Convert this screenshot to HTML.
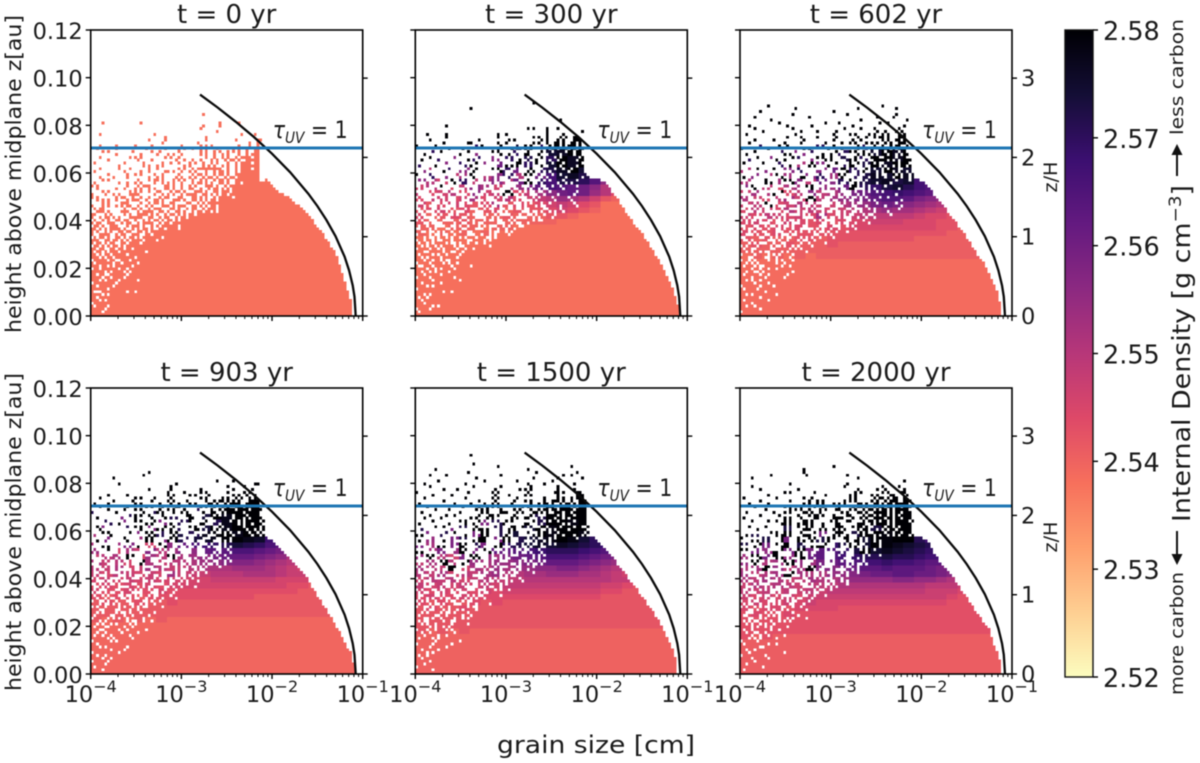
<!DOCTYPE html>
<html>
<head>
<meta charset="utf-8">
<title>Internal density of grains versus size and height</title>
<style>
html,body{margin:0;padding:0;background:#fff;}
svg{display:block;filter:blur(0.45px);font-family:"DejaVu Sans","Liberation Sans",sans-serif;fill:#1a1a1a;}
</style>
</head>
<body>
<svg id="chart" xmlns="http://www.w3.org/2000/svg" width="1200" height="763" viewBox="0 0 1200 763">
<defs><linearGradient id="magma-grad" x1="0" y1="0" x2="0" y2="1"></linearGradient></defs>
<g id="panels"></g>
<text x="596" y="753" font-size="24" text-anchor="middle" textLength="198" lengthAdjust="spacingAndGlyphs">grain size [cm]</text>
<text transform="translate(21,174) rotate(-90)" font-size="21" text-anchor="middle" textLength="318" lengthAdjust="spacingAndGlyphs">height above midplane z[au]</text>
<text transform="translate(21,532) rotate(-90)" font-size="21" text-anchor="middle" textLength="318" lengthAdjust="spacingAndGlyphs">height above midplane z[au]</text>
<text transform="translate(1057,177) rotate(-90)" font-size="19" text-anchor="middle" textLength="31" lengthAdjust="spacingAndGlyphs">z/H</text>
<text transform="translate(1057,537) rotate(-90)" font-size="19" text-anchor="middle" textLength="31" lengthAdjust="spacingAndGlyphs">z/H</text>
<g id="colorbar"></g>
<text transform="translate(1190,522) rotate(-90)" font-size="25" textLength="337" lengthAdjust="spacingAndGlyphs">Internal Density [g cm<tspan dy="-9" font-size="17">−3</tspan><tspan dy="9">]</tspan></text>
<text transform="translate(1183,695) rotate(-90)" font-size="18" textLength="123" lengthAdjust="spacingAndGlyphs">more carbon</text>
<text transform="translate(1183,135) rotate(-90)" font-size="18" textLength="116" lengthAdjust="spacingAndGlyphs">less carbon</text>
<g>
<line x1="1177" y1="531" x2="1177" y2="556" stroke="#111" stroke-width="2"/>
<polygon points="1171.5,554 1182.5,554 1177,565" fill="#111"/>
</g>
<g>
<line x1="1177" y1="176" x2="1177" y2="153" stroke="#111" stroke-width="2"/>
<polygon points="1171.5,155 1182.5,155 1177,144" fill="#111"/>
</g>
</svg>
<script>
// ---------- chart data ----------
const panelTitles = ["t = 0 yr","t = 300 yr","t = 602 yr","t = 903 yr","t = 1500 yr","t = 2000 yr"];
const yTickValues = [0,0.02,0.04,0.06,0.08,0.10,0.12];
const yTickLabels = ["0.00","0.02","0.04","0.06","0.08","0.10","0.12"];
const xTickExponents = [-4,-3,-2,-1];
const xTickLabels = ["−4","−3","−2","−1"];
const xMinorMultipliers = [2,3,4,5,6,7,8,9];
const scaleHeightTicks = [0,1,2,3];
const scaleHeightAu = [0.03327];
const tauLineHeight = [0.0705];
const colorbarTicks = [2.52,2.53,2.54,2.55,2.56,2.57,2.58];
const colorbarLabels = ["2.52","2.53","2.54","2.55","2.56","2.57","2.58"];
// settling-limit curve: log10 grain size [cm], height [au]
const curveLog10Size = [-2.795,-2.6,-2.4,-2.2,-2.0,-1.8,-1.6,-1.5,-1.4,-1.3,-1.2,-1.15,-1.11,-1.09,-1.0773];
const curveHeight = [0.0929,0.0875,0.0815,0.0751,0.0681,0.0603,0.0513,0.0461,0.0403,0.0335,0.0249,0.0191,0.0129,0.0081,0];
// heatmap offsets on top of density levels, per panel
const densityShift = [0,0.0002,0.0008,0.0015,0.0022,0.003];
// first 2-row group that has its own density string (below it: level 9)
const densityStart = [0,14,10,9,7,6];
// right edge of the solid core for columns >= 64, by height row
const coreEdgeP1 = [96,96,96,96,96,96,95,95,95,94,94,94,93,93,93,92,92,92,91,91,91,90,90,89,88,88,87,86,86,85,84,83,82,82,81,80,79,78,77,75,74,73,71,69,68,67,66,65];
const coreEdgeP2 = [97,97,97,97,96,96,96,95,95,95,94,94,93,93,92,92,91,91,90,90,89,88,88,87,86,86,85,84,84,83,82,81,80,80,79,78,77,77,76,75,75,74,73,72,72,71,70,68];
const coreEdgeP3 = [96,96,96,96,96,95,95,95,95,94,94,93,93,92,92,91,91,90,90,89,88,87,87,86,85,85,84,83,83,82,81,80,80,79,78,77,76,76,75,74,73,72,71,71,70,69,68,66];
const coreEdgeP4 = [97,97,97,97,96,96,96,96,95,94,94,93,93,92,92,91,90,90,89,89,88,87,87,86,85,85,84,83,83,82,81,81,80,80,79,78,77,76,75,74,73,72,71,70,69,68,67,65];
const coreEdgeP5 = [96,96,96,96,96,96,95,95,95,94,94,93,93,92,92,91,91,90,90,89,88,88,87,86,85,85,84,83,82,82,81,80,79,78,78,77,76,75,74,74,73,72,71,70,69,68,67,66];
const coreEdgeP6 = [96,96,96,96,96,95,95,95,94,94,93,93,93,92,92,92,91,90,89,89,88,87,86,86,85,84,84,83,82,81,81,80,79,79,78,77,76,75,74,73,73,72,71,71,70,70,69,67];
// occupancy of columns 0-63 by height row (hex, 4 columns per digit, "+" = rest filled)
const occupancyP1 = ["+","f7+","fb+","bd+","7f+","eb+","df+","f5f+","8ffb7+","fdf+","df7+","7fbf+","ebdfb+","f6f7+","d9fb+","faf5f+","6fdbf+","ed7ef+","bf6fb+","7d9df+","eb7f7f+","d6fbf+","b5dff7+","d9b6ff+","6ad7ff+","b59bdff+","e6d5ef7f+","5a6b5fdf+","9e59cdff+","a5366bff+","d5e95a6f7+","69c5d2bf7+","b3965e5bff+","4a6c95ad7f+","96a3e6596f+","c50a7a96adf+","3a1c5e69a5b5+","5809a5c6965d+","8a564a3ae6ad+","0a1c25a6195f+","2a45c9a3a6ad+","a0592458c6a5f7+","84a3c12a5e6adff+","0a02a4c5a3a6ef+","2048a51a4c96aff+","a0045c1a4a3a5ff+","4024a12a45a9a6ff","0a0045a2a4a5a7fc","108404a14a5a5bfc","0204a12085a5a7fc","4008241a4a25a5fc","10220480a5ff25ec","002014a02854a5fc","400810248a4a25ec","02004201248a5a7c","1002a0148024a5ec","0040208a40a4a25c","0a01024080a52a4c","20400810a4a20a4c","1040820040a80224","0000002001000024","0000041000200406","00000010002","1000010000000108","000000000002","00000000008","000000000041","08002000000102","","","00000000004"];
const occupancyP2 = ["+","bf+","7b+","fd7+","ef+","df+","b7+","ebf+","ffdb+","7ff+","f5f+","dfb+","fdff7+","7bfd+","efbf+","daf7+","f6bdf+","9dfbf7+","7bd6f+","eda7ff+","d7bef+","bd6f7f+","e7d9bf+","7b5edbf+","d6bd3fe+","b5e96dbf+","6d3be7af+","e96b5dcbf+","7a4de36bdf+","c95b67e9af+","3ae59c6db7f+","b6196ea35cff+","e43d9a7c69bf+","58c36ba4d7e9f+","a1679c35e86bdf+","4cb2e85a1d96ef+","916a3c74be25adf+","2c85d1a6493e7bf+","68a13e52c974fbef","1c4926a8315dbfdf","a2518c436a17efbf","4091a2c5386bdf7f","8236145a92c6f7df","05c8a1306d49bfef","a1042986135a7dff","2840c1a5062cdbef","0a12640983a5f6bf","5184a25a1c42bdef","0210845a23097efb","8401280396a4dbfe","1020a4018c52bf7c","0408120a6421edbc","4100280354a27bec","0010824106a8ddf8","2080140a1248b7ec","0402010850a2ebf4","1000820124c47bd8","0240100a0842ded8","0008400216a0b76c","8100028104a25ae8","0020180240149a68","0400010028028a38","0010000200148530","0810000240008200","0000000000008004","00000000005088","001","","00000000000004","","","","000008","","00000000001"];
const occupancyP3 = ["+","7f+","fe+","db+","f7f+","bfd+","fef+","d7fb+","ffbf+","bdf+","7ef7+","fbdf+","d6ff+","f7bf7+","bedfb+","d97fef+","f6dbf+","ba7edf+","d5fb7f+","6bdaef+","e79bdf+","7bd5ef+","d69ebf7+","b3e7d5ff+","5de96bdf+","ea367dbe+","97c5ba6ff+","3e6a9d5bdf+","c59a27e6bf+","6b38d5a96ef+","a4d96c15b7df+","39a52e78c6bf+","d618a37c94def+","52c94b6a1e7bf+","a8357e1c946dbf+","1d6a42b9e53a7ef+","c4813a6d2597bdf+","2a96c3518e46bfdf","85147a2c639dfbef","1a43c69025a7dfbf","60a2819c4d36bfef","a5041c6a3295edff","0c285a13946bffbf","9201a46c185ad7ff","04a3182569c2bfdf","2810c4a1036afbff","a05218c4692bdeff","1042a6190c85ffbd","4801231a5426db6d","0214a0845a13d3ad","8040120c2194d75a","1208a40136a2b5ce","0001245082c4eb5a","4082012a1095a7dc","1004802141a27d5e","0210140a4628e7b8","2000a10248155dac","0401082013a49bd8","8020014084129eb8","0102400a20144964","1000820104a2a538","0408010020480a68","0000420810125a38","2000080020a14a28","0080020810002450","0400100002084020","1000402000400008","0002000108001200","0010000000080004","0400004000002080","0000100001000040","0100000020000000","0000080000100040","0020000000000800"];
const occupancyP4 = ["+","f7+","bf+","fb+","7df+","f6f+","dbf+","7fd+","fef7+","ebfb+","dfff+","7ebf+","fd7ef+","b6fdf+","dbefb+","e7dbf7+","b9f6ff+","d6bd7f+","ebfa6df+","7d5bef+","be76fbf+","d7a5def+","e79dbff+","5bd6a7df+","e95cd6ff+","65b9e5bff+","da6536def+","b5c95a7bff+","4a6e1c5dff+","a39d5a6eff+","95c3a9e5bdf+","2a5e6c1b6ff+","c4a3e5d9aef+","5a162e8a5bff+","a3c5164e96ff+","9a15e3c29adff+","a6412c5e8d3ff+","8a5321c6a95eff+","1c4a2e1496a5bff+","8a521c43a6d9aff+","05a41c32c5a6dff+","28c5139a4e15bff+","a0240c51863aeff+","4225c1a9063cdff+","0a0a451c9268aff+","80210a4c2516bfff","24040a19c238afff","02082a05138cefff","410005a2c163b7ed","0a024a250c14adda","100021a4835adfb5","2804a4120a397f7d","01200a1480c6fd6e","0408a1405823ed7d","201082150c47f75e","0002a420183ab7bc","804011a2504cbf7c","0208a04a21097bde","10040a2180a4a77c","4200a0448a1a5e7c","0081020a1025aa3c","1000a10400a0a528","0204000a0a100a48","0000000820a020a0","0000040400800810","0000000400002080","002000010000000c","0000000000020800","00800000000000","000010","0000040"];
const occupancyP5 = ["+","fd+","7f+","ef+","fbf+","dff+","b7f+","f5f+","df7+","fbef+","7dfb+","feff7+","bd7f+","ef6f+","dbfd+","76ebf+","fad7f+","d6fbef+","a7d9ff+","e5bdaf+","be6fb7f+","d7a5eff+","e9d6bdf+","65b7e9ff+","ba5c6def+","56e9a7ff+","b5a6d5bff+","9e5c6a7ef+","a6591e9ff+","5c9a623adf+","e3a5c1a6ff+","69c5a95ebff+","a3e6d1a5aef+","5a1c5e6a3dff+","c6a1583ea7ff+","9a5c1e9a53eff+","a14c53a6e5bff+","4a6e1c5a39eff+","a5324c15e5a5ff+","0a5c1a963d5aff+","84a3c5129e6bff+","2a5c4a16a3eaff+","a0a3c4152a5dff+","05c1a248a93bff+","a2a4c1851a5cff+","0a05a2c1a6a5afff","4a2405c1a316bfff","0205a1c4a3a9afef","a04025a14c15edda","081204a12c45b7fd","200405a1281caf7e","0120a20519a37bd9","400824a180c5fd7e","0200a14a5016b7de","10400a2814c5ed7e","0412011a0828f5de","200080a1c51a9dbe","010802a10a25b7de","0800412a0140e7ae","4002084a1025a5ae","0020010408a13a4e","1000200a04010a5c","0204000420a0081c","8000100a00401a18","0021000402a00820","0400040100200800","1000200000410020","0080004004002000","0000020000100804","0410000100000240","0000100000080010","0100000000400000","0000000200000040","000004000","","","000008"];
const occupancyP6 = ["+","bf+","ff7+","df+","fbf+","f7d+","7fbf+","efff7+","dbff+","fe7f+","bfdb+","7dff+","eafbf+","f6df7+","d9bff+","b7edf+","f5afbf+","d6b7ff+","a9ed5f+","e6bdaf7+","9ed5fb+","c7a9eff+","e5d6bf7+","5a9e6dff+","a6d5ceff+","69c5a7bf+","e5a6a9dff+","5c9a1e6ef+","a3e5c6a7ff+","96a1c5e9bf+","c5a93e16aff+","5a1e6c5a5ef+","a6c3513e9aff+","5c9a1e6a3bff+","a1c5e2a5a6ff+","8a5c16a53aef+","a3c1a5e9a1aff+","2a6c1a5c3a6ff+","a4c1523a1ea5ff+","0a5c9a1e5a3bff+","a1c5a36e1c6bff+","4a2c1a5e163aeff+","0a5c1a4e1a3dff+","a2c1a5e6a135bff+","04a1c52e18a5eff+","a1a4c6011a93efff","0aa1c52a8135afff","80a1c452a315bfff","2a05a1c4291bad5d","0014a2151c6a7b6e","0200a1c52a16d5be","1040a4a21c5a7b5e","0001a5a2181cbd7e","0824a1a05185ad7d","4000a2183c4a7b6e","0102045a2185ad5e","2008a1a4051a7d6e","00402a4518a5ad7c","0400a212085a5b6e","1020014a2a1a6b7c","0100204a02a0a5ce","4004012000a05ac8","0020000100a0a184","0000a01000280a18","0100040000102408","0800000002000820","0000200001000000","0000000000000008","0800000000100000","0010008001000000","0000010000000000","000001000000","0000000020"];
// density level per 4-column block and 2-row group (base-36; value = 2.52 + level * 0.002)
const densityP1 = ["9"];
const densityP2 = ["a9a9a9a999","aa9aaa9aa9","baaabaaaaaaaa9","cabcbaaabaaabba9","bcdbcabcabbbcdcba9","dbcdcbcgbcbcdedcb9","cedcdgcdfcdefhgfdba9","ecdfcideucegiklkhfcb9","dfuceigdfhjlnmlkifdb","ifdupegifkupnqqpmigd","upiegufipfuknrsq","ifupiuiupkupqsur","puiupuikuupurusu","uupiupuipuqupusu","upuuuipuupuursuu","uuuuupuuurupuuuu","u"];
const densityP3 = ["9a9a9a9a","a","abaabaaabaa","babaabbabbbbbbbba","cbbcbbbbbbbbbbbbbbba","bcbcbcbbcbccccccccbba","cdcbdcbcbcccdddcccbba","dcedcdcgcddeeeeedccba","cedcfdedcdefghggfedcb","deucdfeddfghjkjihgfdc","fdcegdueghijlmmljihfd","dgfuceiefhjkmnonmlkhf","iuecfguhgkupoqrpnmkh","fiuguiekipuqrsqrnml","uifuguipgupqsrus","fuiuipuikupurusr","uiupufuiupuqusuu","puiuupiuuqupuusu","uuupuipuupuurusu","upuuuuupuuupuuuu","u"];
const densityP4 = ["a9a9a9a9","a","a","abaabaaba","babbabbbbbbbbbba","cbbcbbcbbbbbbbbbbbba","bcbcbcbcccccccccccbba","cdcdcdcccccddddddcccba","dcedcdcgdddeeefffeddcb","edfcdgeddefffgggfedcb","fdecufdeefghiiihgfedc","defucgeufghjkkkjihfed","gucfdiegihkllmmlkjigf","fugiucuhkmnopqpomlkih","uifuguiupqrsttsrnml","fuiuiupuqpstusut","uiupuiuupuqusuuu","upuiuuiupuupsuuu","uuipuuupuuqusuuu","puuuupuuupuuuuuu","u"];
const densityP5 = ["a9a9a9","a","a","a","abaaba","babaababa","bcbbcbbbbbbbbbbbba","cbcbcbcbcccccccccbba","dcdcdcdcdddddddddccba","cedecdedddeeeeeeeeddcb","edfcedfgeeffgggffedcb","feducfegfgghhiihgfedc","dfueugfgghijkkkjihgfd","gueciugfijklmmmlkjihf","ufiguiukklmnooonmlkjh","ifuiupiuopqrqrqponmki","uguipuuiupqrsusqonl","uipuuiupuqsusuus","puuipuupuuqusuuu","uupuuuipuuupuusu","uuuupuuuuuupuuuu","u"];
const densityP6 = ["a9a9","a","a","a","abaabaaa","babbabbbba","bcbbcbcbbbbbbbbbbbba","cbcbcbcccccccccccccba","dcdcdcdcdddddddddcccba","cededcdddeeeeeeeedddcb","edfecdfeefgggghhggfedc","fdefufeegghijjkkjjihfd","efugdfuhhijkklkkkjihfec","guefugfijklmmnmmlkkjihf","fuiugujklmnoopoonmmlkih","uiguiuiklnpuqrqponmljh","puiuupuunpuqusrqponlj","uupuiuupuuuqusuuomj","upuuuuuiuupuusuu","uuuupuuuuuuupuuu","u"];

const occupancyAll = [occupancyP1,occupancyP2,occupancyP3,occupancyP4,occupancyP5,occupancyP6];
const densityAll = [densityP1,densityP2,densityP3,densityP4,densityP5,densityP6];
const coreEdgeAll = [coreEdgeP1,coreEdgeP2,coreEdgeP3,coreEdgeP4,coreEdgeP5,coreEdgeP6];

// ---------- layout ----------
const NS = "http://www.w3.org/2000/svg";
const PANEL_W = 272, PANEL_H = 286, COL_W = PANEL_W/100, ROW_H = PANEL_H/100, AU_PER_ROW = 0.0012, LOG_PER_COL = 0.03;
const panelLeft = [90.7,415.3,740,90.7,415.3,740];
const panelTop = [30,30,30,388,388,388];
const magmaStops = ["#000004","#140e36","#3b0f70","#641a80","#8c2981","#b73779","#de4968","#f7705c","#fe9f6d","#fecf92","#fcfdbf"];
const CB_MIN = 2.52, CB_MAX = 2.58;

function hexRgb(h){return [1,3,5].map(i=>parseInt(h.substr(i,2),16));}
const magmaRgb = magmaStops.map(hexRgb);
function colorFor(value){
  let t = (CB_MAX-value)/(CB_MAX-CB_MIN);
  t = Math.max(0,Math.min(1,t))*10;
  const i = Math.min(9,Math.floor(t)), f = t-i;
  const c = magmaRgb[i].map((v,k)=>Math.round(v+(magmaRgb[i+1][k]-v)*f));
  return "rgb("+c.join(",")+")";
}
function mk(parent,tag,attrs,text){
  const el = document.createElementNS(NS,tag);
  for(const k in attrs) el.setAttribute(k,attrs[k]);
  if(text!==undefined) el.textContent = text;
  parent.appendChild(el);
  return el;
}
function expandRow(s){
  let plus = s.endsWith("+");
  let body = plus ? s.slice(0,-1) : s;
  body = body.padEnd(16, plus ? "f" : "0").slice(0,16);
  return body;
}
function cellDensity(p,col,row){
  const list = densityAll[p], g = Math.floor(row/2)-densityStart[p];
  if(Math.floor(row/2) < densityStart[p]) return 2.52+9*0.002+densityShift[p];
  const s = list[Math.min(g,list.length-1)];
  const ch = s[Math.min(Math.floor(col/4),s.length-1)];
  return 2.52+parseInt(ch,36)*0.002+densityShift[p];
}

const panelsRoot = document.getElementById("panels");
for(let p=0;p<6;p++){
  const L = panelLeft[p], T = panelTop[p];
  const xOf = lg => L+(lg+4)/3*PANEL_W;
  const yOf = z => T+PANEL_H-z/0.12*PANEL_H;
  const g = document.createElementNS(NS,"g");
  
  
  panelsRoot.appendChild(g);

  // heatmap cells
  const cells = document.createElementNS(NS,"g");
  
  
  cells.setAttribute('shape-rendering','crispEdges');
  g.appendChild(cells);
  const occ = occupancyAll[p], edge = coreEdgeAll[p];
  const maxRow = occ.length;
  for(let r=0;r<maxRow;r++){
    const bits = expandRow(occ[r]);
    const present = [];
    for(let c=0;c<64;c++){
      const d = parseInt(bits[c>>2],16);
      if(d & (8>>(c&3))) present.push(c);
    }
    if(r<edge.length) for(let c=64;c<edge[r];c++) present.push(c);
    for(const c of present){
      const lg = -4+c*LOG_PER_COL, z = r*AU_PER_ROW;
      const el = document.createElementNS(NS,"rect");
      
      
      el.setAttribute('x',xOf(lg));
      el.setAttribute('y',yOf(z+AU_PER_ROW));
      el.setAttribute('width',COL_W+0.05);
      el.setAttribute('height',ROW_H+0.05);
      el.setAttribute('fill',colorFor(cellDensity(p,c,r)));
      cells.appendChild(el);
    }
  }

  // settling curve
  const curve = document.createElementNS(NS,"polyline");
  
  
  curve.setAttribute('points',curveLog10Size.map((lg,i)=>xOf(lg).toFixed(1)+","+yOf(curveHeight[i]).toFixed(1)).join(" "));
  curve.setAttribute('fill','none');
  curve.setAttribute('stroke','#0a0a0a');
  curve.setAttribute('stroke-width','2.3');
  g.appendChild(curve);

  // tau line
  const tau = document.createElementNS(NS,"line");
  
  
  tau.setAttribute('x1',L);
  tau.setAttribute('x2',L+PANEL_W);
  tau.setAttribute('y1',yOf(tauLineHeight[0]));
  tau.setAttribute('y2',yOf(tauLineHeight[0]));
  tau.setAttribute('stroke','#1f77b4');
  tau.setAttribute('stroke-width','3');
  g.appendChild(tau);

  // tau label
  const tauLabel = document.createElementNS(NS,"text");
  
  
  tauLabel.setAttribute('x',L+182);
  tauLabel.setAttribute('y',T+108);
  tauLabel.setAttribute('font-size','24');
  tauLabel.setAttribute('textLength','75');
  tauLabel.setAttribute('lengthAdjust','spacingAndGlyphs');
  g.appendChild(tauLabel);
  mk(tauLabel,"tspan",{"font-style":"italic"},"τ");
  mk(tauLabel,"tspan",{"font-style":"italic","font-size":"16",dy:"5"},"UV");
  mk(tauLabel,"tspan",{dy:"-5"}," = 1");

  // frame
  const frame = document.createElementNS(NS,"rect");
  
  
  frame.setAttribute('x',L);
  frame.setAttribute('y',T);
  frame.setAttribute('width',PANEL_W);
  frame.setAttribute('height',PANEL_H);
  frame.setAttribute('fill','none');
  frame.setAttribute('stroke','#000');
  frame.setAttribute('stroke-width','1.6');
  g.appendChild(frame);

  // title
  const title = document.createElementNS(NS,"text");
  
  
  title.setAttribute('x',L+PANEL_W/2);
  title.setAttribute('y',T-7);
  title.setAttribute('font-size','26');
  title.setAttribute('text-anchor','middle');
  title.textContent = panelTitles[p];
  g.appendChild(title);

  // y ticks
  yTickValues.forEach((v,i)=>{
    const tick = document.createElementNS(NS,"line");
    
    
    tick.setAttribute('x1',L-5);
    tick.setAttribute('x2',L);
    tick.setAttribute('y1',yOf(v));
    tick.setAttribute('y2',yOf(v));
    tick.setAttribute('stroke','#000');
    tick.setAttribute('stroke-width','1.4');
    g.appendChild(tick);
    if(p%3===0){
      const lab = document.createElementNS(NS,"text");
      
      
      lab.setAttribute('x',L-8);
      lab.setAttribute('y',yOf(v)+9);
      lab.setAttribute('font-size','22.5');
      lab.setAttribute('text-anchor','end');
      lab.textContent = yTickLabels[i];
      g.appendChild(lab);
    }
  });

  // right ticks (z/H)
  scaleHeightTicks.forEach(v=>{
    const y = yOf(v*scaleHeightAu[0]);
    const tick = document.createElementNS(NS,"line");
    
    
    tick.setAttribute('x1',L+PANEL_W);
    tick.setAttribute('x2',L+PANEL_W+5);
    tick.setAttribute('y1',y);
    tick.setAttribute('y2',y);
    tick.setAttribute('stroke','#000');
    tick.setAttribute('stroke-width','1.4');
    g.appendChild(tick);
    if(p%3===2){
      const lab = document.createElementNS(NS,"text");
      
      
      lab.setAttribute('x',L+PANEL_W+9);
      lab.setAttribute('y',y+8);
      lab.setAttribute('font-size','22.5');
      lab.textContent = String(v);
      g.appendChild(lab);
    }
  });

  // x ticks
  xTickExponents.forEach((ex,i)=>{
    const x = xOf(ex);
    const tick = document.createElementNS(NS,"line");
    
    
    tick.setAttribute('x1',x);
    tick.setAttribute('x2',x);
    tick.setAttribute('y1',T+PANEL_H);
    tick.setAttribute('y2',T+PANEL_H+5);
    tick.setAttribute('stroke','#000');
    tick.setAttribute('stroke-width','1.4');
    g.appendChild(tick);
    if(ex<-1) xMinorMultipliers.forEach(m=>{
      const mx = xOf(ex+Math.log10(m));
      const minor = document.createElementNS(NS,"line");
      
      
      minor.setAttribute('x1',mx);
      minor.setAttribute('x2',mx);
      minor.setAttribute('y1',T+PANEL_H);
      minor.setAttribute('y2',T+PANEL_H+3);
      minor.setAttribute('stroke','#000');
      minor.setAttribute('stroke-width','1');
      g.appendChild(minor);
    });
    if(p>=3){
      const lab = document.createElementNS(NS,"text");
      
      
      lab.setAttribute('x',x);
      lab.setAttribute('y',T+PANEL_H+28);
      lab.setAttribute('font-size','22.5');
      lab.setAttribute('text-anchor','middle');
      g.appendChild(lab);
      mk(lab,"tspan",{},"10");
      mk(lab,"tspan",{"font-size":"16",dy:"-10"},xTickLabels[i]);
    }
  });
}

// ---------- colorbar ----------
const CB_X = 1065, CB_W = 28, CB_TOP = 30, CB_BOT = 677;
const cbY = v => CB_BOT-(v-CB_MIN)/(CB_MAX-CB_MIN)*(CB_BOT-CB_TOP);
const grad = document.getElementById("magma-grad");
magmaStops.forEach((c,i)=>mk(grad,"stop",{offset:(i*10)+"%","stop-color":c}));
const cb = document.getElementById("colorbar");
const cbRect = document.createElementNS(NS,"rect");


cbRect.setAttribute('x',CB_X);
cbRect.setAttribute('y',CB_TOP);
cbRect.setAttribute('width',CB_W);
cbRect.setAttribute('height',CB_BOT-CB_TOP);
cbRect.setAttribute('fill','url(#magma-grad)');
cbRect.setAttribute('stroke','#111');
cbRect.setAttribute('stroke-width','1.4');
cb.appendChild(cbRect);
colorbarTicks.forEach((v,i)=>{
  const y = cbY(v);
  const tick = document.createElementNS(NS,"line");
  
  
  tick.setAttribute('x1',CB_X+CB_W);
  tick.setAttribute('x2',CB_X+CB_W+5);
  tick.setAttribute('y1',y);
  tick.setAttribute('y2',y);
  tick.setAttribute('stroke','#000');
  tick.setAttribute('stroke-width','1.4');
  cb.appendChild(tick);
  const lab = document.createElementNS(NS,"text");
  
  
  lab.setAttribute('x',CB_X+CB_W+10);
  lab.setAttribute('y',y+10);
  lab.setAttribute('font-size','25.5');
  lab.textContent = colorbarLabels[i];
  cb.appendChild(lab);
});
</script>
</body>
</html>
